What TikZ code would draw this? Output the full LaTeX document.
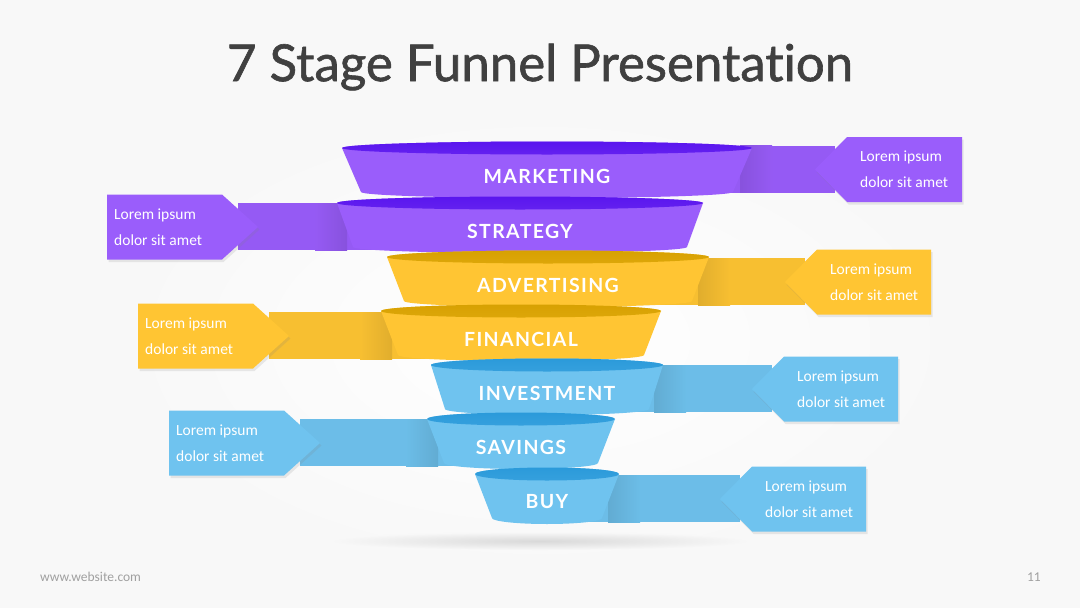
\documentclass[tikz,border=0pt]{standalone}
\usepackage{fontspec}
\setmainfont{Lato}[Ligatures=NoCommon]
\newfontfamily\titlefont{Lato}[Ligatures=NoCommon, FakeBold=1.2]
\newfontfamily\calfont{Carlito}
\newfontfamily\lblfont{Lato}[LetterSpace=7, Ligatures=NoCommon]
\usetikzlibrary{shadows}
\definecolor{bg}{HTML}{F8F8F8}
\definecolor{pbody}{HTML}{9A5DFB}
\definecolor{prim}{HTML}{5A16EE}
\definecolor{ybody}{HTML}{FFC533}
\definecolor{yrim}{HTML}{D7A102}
\definecolor{bbody}{HTML}{6FC3EF}
\definecolor{brim}{HTML}{2B9ADA}
\definecolor{titlec}{HTML}{404040}
\definecolor{footc}{HTML}{A0A0A0}
\tikzset{
  lbl/.style={font=\lblfont\bfseries\fontsize{19.5}{22}\selectfont, text=white, inner sep=0pt},
  ctext/.style={font=\calfont\fontsize{15.5}{26}\selectfont, text=white, align=left, anchor=west, inner sep=0pt},
  boxshadow/.style={drop shadow={opacity=0.16, shadow xshift=1.5pt, shadow yshift=-2.5pt}},
}
% cx ty at ab body rim label name
\newcommand\funnelseg[8]{%
  \fill[#5] (#1-#3,#2) -- (#1-#4,#2+44) arc[start angle=180,end angle=0,x radius=#4,y radius=6] -- (#1+#3,#2) arc[start angle=0,end angle=-180,x radius=#3,y radius=6.5] -- cycle;
  \shade[top color=#6, bottom color=#6!85!#5] (#1,#2) ellipse[x radius=#3, y radius=6.5];
  \node[lbl] (#8) at (#1,#2+28) {#7};
}
% tipx cy rightx color name funnel-edge-x cx
\newcommand\calloutR[7]{%
  \fill[#4!97!black] (#7,#2-24) rectangle (#1+20,#2+23);
  \shade[left color=#4!88!black, right color=#4!97!black] (#6-2,#2-24) rectangle (#6+30,#2+23);
  \fill[#4, boxshadow] (#1,#2) -- (#1+32,#2-32.5) -- (#3,#2-32.5) -- (#3,#2+32.5) -- (#1+32,#2+32.5) -- cycle;
  \node[ctext] (#5) at (#1+45,#2) {Lorem ipsum\\dolor sit amet};
}
% leftx cy tipx color name funnel-edge-x cx
\newcommand\calloutL[7]{%
  \fill[#4!97!black] (#3-20,#2-24) rectangle (#7,#2+23);
  \shade[left color=#4!97!black, right color=#4!88!black] (#6-30,#2-24) rectangle (#6+2,#2+23);
  \fill[#4, boxshadow] (#1,#2-32.5) -- (#3-36,#2-32.5) -- (#3,#2) -- (#3-36,#2+32.5) -- (#1,#2+32.5) -- cycle;
  \node[ctext] (#5) at (#1+7,#2) {Lorem ipsum\\dolor sit amet};
}
\begin{document}
\begin{tikzpicture}[x=1pt,y=-1pt]
\fill[bg] (0,0) rectangle (1080,608);
\useasboundingbox (0,0) rectangle (1080,608);
% glow and floor shadow
\shade[inner color=white, outer color=bg] (540,340) ellipse[x radius=420, y radius=230];
\shade[inner color=gray!30, outer color=bg] (540,541) ellipse[x radius=210, y radius=9];
\node[font=\titlefont\fontsize{51}{60}\selectfont, text=titlec] (title) at (540,67) {7 Stage Funnel Presentation};
% 1 marketing
\calloutR{815}{169.5}{962}{pbody}{c1}{742}{547}
\funnelseg{547}{148}{205}{186}{pbody}{prim}{MARKETING}{s1}
% 2 strategy
\calloutL{107}{227}{258}{pbody}{c2}{345}{520}
\funnelseg{520}{203}{183}{167}{pbody}{prim}{STRATEGY}{s2}
% 3 advertising
\calloutR{785}{282}{931}{ybody}{c3}{700}{548}
\funnelseg{548}{257}{161}{144}{ybody}{yrim}{ADVERTISING}{s3}
% 4 financial
\calloutL{138}{336}{289}{ybody}{c4}{390}{521}
\funnelseg{521}{311}{140}{123}{ybody}{yrim}{FINANCIAL}{s4}
% 5 investment
\calloutR{752}{389}{898}{bbody}{c5}{656}{547}
\funnelseg{547}{365}{116}{102}{bbody}{brim}{INVESTMENT}{s5}
% 6 savings
\calloutL{169}{443}{320}{bbody}{c6}{436}{521}
\funnelseg{521}{419}{94}{77}{bbody}{brim}{SAVINGS}{s6}
% 7 buy
\calloutR{720}{499}{866}{bbody}{c7}{610}{547}
\funnelseg{547}{474}{72}{55}{bbody}{brim}{BUY}{s7}
% footer
\node[font=\calfont\fontsize{13.5}{16}\selectfont, text=footc, anchor=west, inner sep=0pt] (web) at (40,577) {www.website.com};
\node[font=\calfont\fontsize{13.5}{16}\selectfont, text=footc, anchor=east, inner sep=0pt] (pg) at (1041,577) {11};
\end{tikzpicture}
\end{document}
